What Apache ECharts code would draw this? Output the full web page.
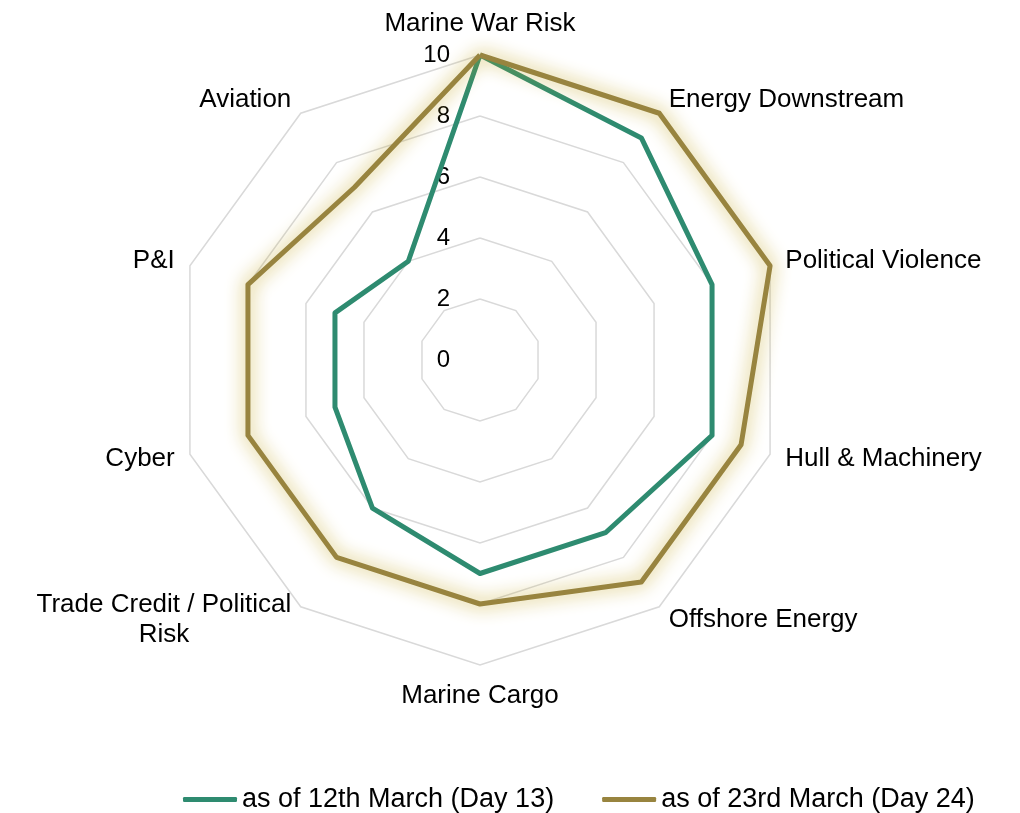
<!DOCTYPE html>
<html>
<head>
<meta charset="utf-8">
<script src="https://cdn.jsdelivr.net/npm/echarts@6/dist/echarts.min.js"></script>
<style>
  html, body { margin: 0; padding: 0; background: #fff; }
  #chart { width: 1020px; height: 813px; }
</style>
</head>
<body>
<div id="chart"></div>
<script>
// indicators listed counter-clockwise from the top (echarts radar order)
const categories = ['Marine War Risk', 'Aviation', 'P&I', 'Cyber', 'Trade Credit / Political\nRisk',
  'Marine Cargo', 'Offshore Energy', 'Hull & Machinery', 'Political Violence', 'Energy Downstream']
const day13 = [10, 4, 5, 5, 6, 7, 7, 8, 8, 9]
const day24 = [10, 7, 8, 8, 8, 8, 9, 9, 10, 10]
const seriesNames = ['as of 12th March (Day 13)', 'as of 23rd March (Day 24)']
const axisMax = 10

const font = "'Liberation Sans', Arial, sans-serif"
let myChart = echarts.init(document.getElementById('chart'))

const indicator = categories.map((name, i) => {
  const item = { name: name, min: 0, max: axisMax }
  if (i === 0) {
    item.axisLabel = { show: true, margin: 30, color: '#000', fontSize: 24, fontFamily: font }
  }
  return item
})

myChart.setOption({
  animation: false,
  radar: {
    center: [480, 360],
    radius: 305,
    startAngle: 90,
    shape: 'polygon',
    splitNumber: 5,
    indicator: indicator,
    axisName: {
      color: '#000',
      fontSize: 26,
      fontFamily: font,
      formatter: (name) => name.split('\n').map(l => '{c|' + l + '}').join('\n'),
      rich: {
        c: { align: 'center', fontSize: 26, fontFamily: font, color: '#000', lineHeight: 30 }
      }
    },
    nameGap: 16,
    axisLine: { show: false },
    axisTick: { show: false },
    axisLabel: { show: false },
    splitArea: { show: false },
    splitLine: { lineStyle: { color: '#d9d9d9', width: 1.5 } }
  },
  legend: {
    left: 178,
    top: 781,
    itemWidth: 54,
    itemHeight: 5,
    itemGap: 48,
    icon: 'roundRect',
    textStyle: { color: '#000', fontSize: 27, fontFamily: font },
    data: seriesNames
  },
  series: [{
    type: 'radar',
    symbol: 'none',
    data: [
      {
        name: seriesNames[0],
        value: day13,
        lineStyle: { color: '#2e8b70', width: 5 },
        itemStyle: { color: '#2e8b70' }
      },
      {
        name: seriesNames[1],
        value: day24,
        lineStyle: {
          color: '#98843f', width: 5,
          shadowBlur: 18, shadowColor: 'rgba(195,165,35,0.95)'
        },
        itemStyle: { color: '#98843f' }
      }
    ]
  }]
})
</script>
</body>
</html>
